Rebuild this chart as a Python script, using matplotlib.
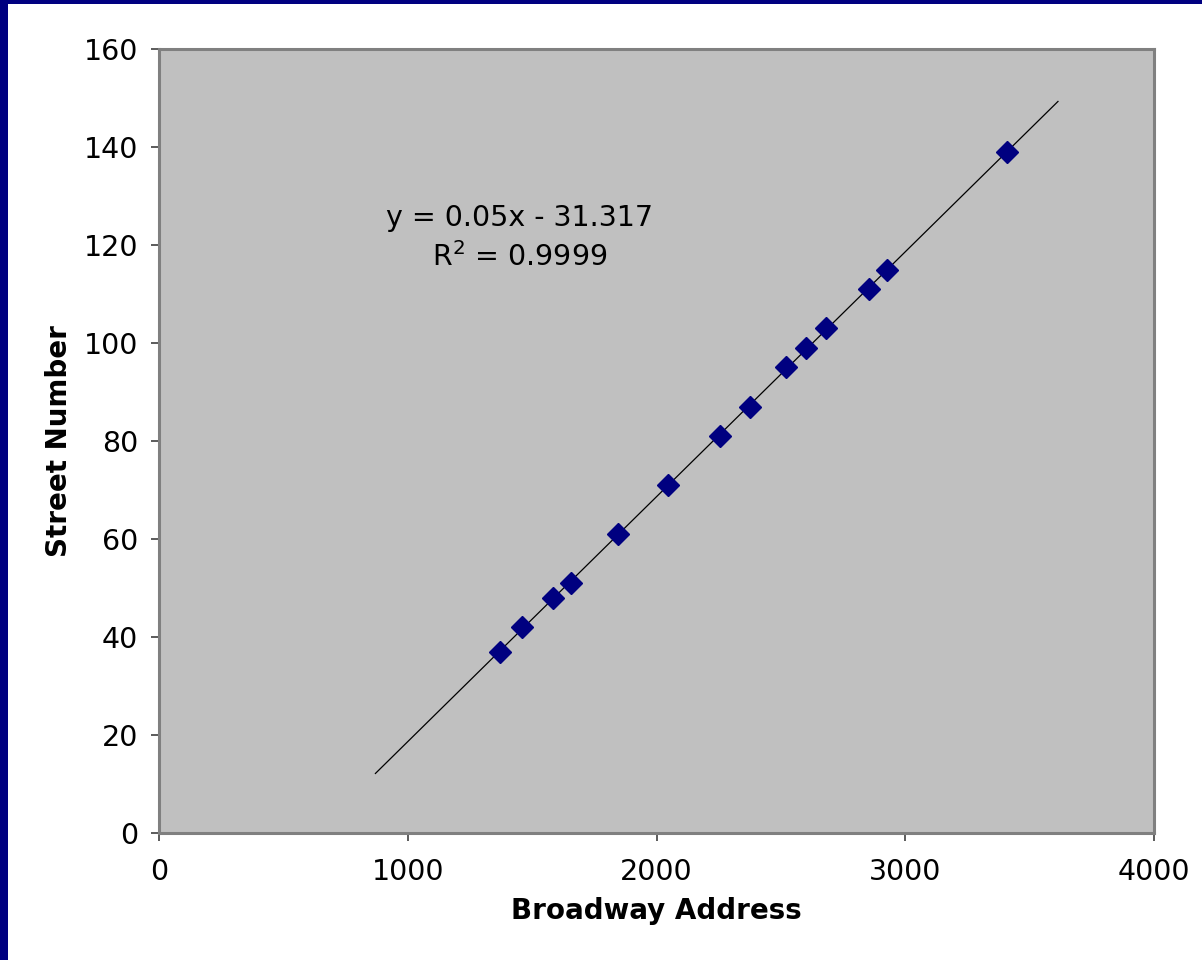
import numpy as np
import matplotlib
matplotlib.use("Agg")
import matplotlib.pyplot as plt
from matplotlib.patches import Rectangle

# Data
broadway_address = [1371, 1459, 1584, 1656, 1845, 2046, 2255, 2376, 2521, 2601, 2681, 2854, 2927, 3409]
street_number = [37, 42, 48, 51, 61, 71, 81, 87, 95, 99, 103, 111, 115, 139]
trend_range = [870, 3614]
x_ticks = [0, 1000, 2000, 3000, 4000]
y_ticks = [0, 20, 40, 60, 80, 100, 120, 140, 160]

plt.rcParams['font.family'] = ['DejaVu Sans']

W, H, DPI = 1202, 960, 100
fig = plt.figure(figsize=(W / DPI, H / DPI), dpi=DPI)
fig.patch.set_facecolor('white')

# Navy frame bands (slide background)
fig.patches.append(Rectangle((0, 0), 8 / W, 1, transform=fig.transFigure,
                             facecolor='#000080', edgecolor='none', zorder=0))
fig.patches.append(Rectangle((0, 1 - 4 / H), 1, 4 / H, transform=fig.transFigure,
                             facecolor='#000080', edgecolor='none', zorder=0))

left, right, top, bottom = 159, 1154, 49, 833
ax = fig.add_axes([left / W, 1 - bottom / H, (right - left) / W, (bottom - top) / H])
ax.set_facecolor('#C0C0C0')

x = np.array(broadway_address, dtype=float)
y = np.array(street_number, dtype=float)
slope, intercept = np.polyfit(x, y, 1)
xt = np.array(trend_range, dtype=float)
ax.plot(xt, slope * xt + intercept, color='black', lw=0.9, zorder=2)
ax.plot(x, y, linestyle='none', marker='D', markersize=11,
        color='#000080', markeredgecolor='#000080', zorder=3)

ax.set_xlim(0, 4000)
ax.set_ylim(0, 160)
ax.set_xticks(x_ticks)
ax.set_yticks(y_ticks)
ax.tick_params(axis='both', direction='out', length=6, width=1.2,
               color='#404040', labelsize=20.5)
ax.tick_params(axis='x', pad=12)
ax.tick_params(axis='y', pad=9)

for s in ax.spines.values():
    s.set_color('#808080')
    s.set_linewidth(2.2)

ax.set_xlabel('Broadway Address', fontsize=20, fontweight='bold', labelpad=8)
ax.set_ylabel('Street Number', fontsize=20, fontweight='bold', labelpad=8)

ax.text(1450, 125.5, 'y = 0.05x - 31.317', fontsize=20.5, ha='center', va='center')
ax.text(1450, 117.5, r'R$^2$ = 0.9999', fontsize=20.5, ha='center', va='center')

fig.savefig('out.png', dpi=DPI, facecolor=fig.get_facecolor())
